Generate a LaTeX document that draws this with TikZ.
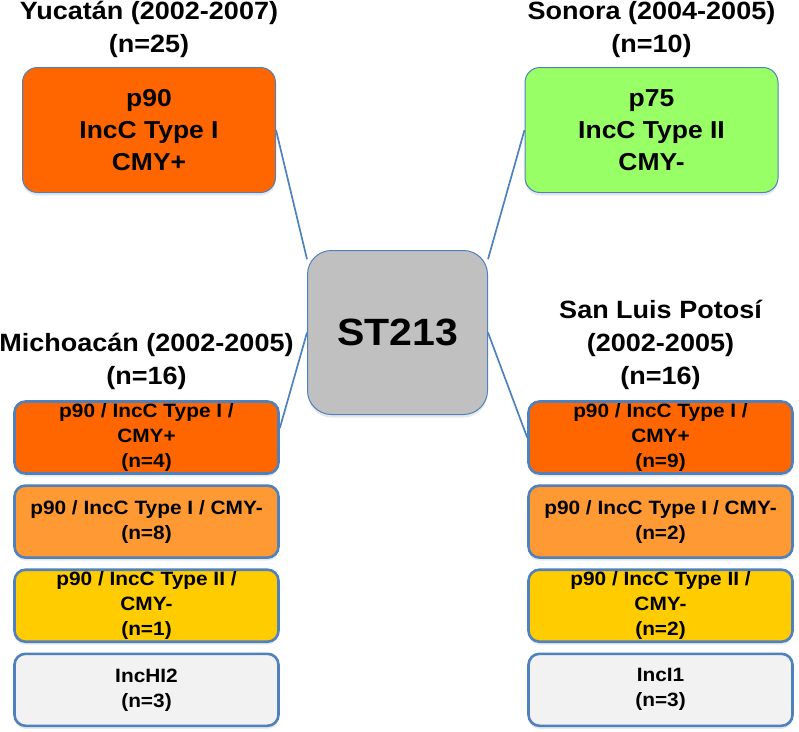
\documentclass[tikz,border=0pt]{standalone}
\usepackage{fontspec}
\setmainfont[FakeStretch=1.08]{Liberation Sans}
\usepackage{tikz}
\usetikzlibrary{positioning,backgrounds,shadows}
\definecolor{edgeblue}{RGB}{79,129,189}
\definecolor{darkorange}{RGB}{255,102,0}
\definecolor{lightorange}{RGB}{255,153,51}
\definecolor{goldyellow}{RGB}{255,204,0}
\definecolor{lightgreen}{RGB}{153,255,102}
\definecolor{centergray}{RGB}{192,192,192}
\definecolor{palegray}{RGB}{242,242,242}

\begin{document}
\begin{tikzpicture}[
        x=1pt, y=-1pt,
        node distance=9.5pt,
        soft/.style={drop shadow={opacity=0.18, shadow xshift=0pt, shadow yshift=-3pt}},
        bigbox/.style={rectangle, rounded corners=15pt, draw=edgeblue, line width=1pt, fill=#1, soft,
            minimum width=253pt, minimum height=125pt,
            align=center, font=\bfseries\fontsize{24.5}{32}\selectfont},
        stackbox/.style={rectangle, rounded corners=11pt, draw=edgeblue, line width=2.6pt, fill=#1, soft,
            minimum width=264pt, minimum height=72pt, inner sep=0pt,
            align=center, font=\bfseries\fontsize{19.3}{25}\selectfont},
        title/.style={align=center, inner sep=0pt, font=\bfseries\fontsize{25}{33}\selectfont},
        link/.style={draw=edgeblue, line width=1.7pt}
    ]
        \useasboundingbox (0,0) rectangle (799,731);

        % Central sequence type
        \node[rectangle, rounded corners=24pt, draw=edgeblue, line width=1pt, fill=centergray, soft,
            minimum width=180pt, minimum height=164pt,
            font=\bfseries\fontsize{38}{38}\selectfont] (st) at (397.5,332.5) {ST213};

        % Upper states
        \node[bigbox=darkorange] (yuc) at (149,130) {p90\\IncC Type I\\CMY+};
        \node[title, above=9pt of yuc] (yuctitle) {Yucat\'an (2002-2007)\\(n=25)};
        \node[bigbox=lightgreen] (son) at (651.5,130) {p75\\IncC Type II\\CMY-};
        \node[title, above=9pt of son] (sontitle) {Sonora (2004-2005)\\(n=10)};

        % Michoacan stack
        \node[stackbox=darkorange] (m1) at (146.5,437.5) {p90 / IncC Type I /\\CMY+\\(n=4)};
        \node[stackbox=lightorange, below=of m1] (m2) {p90 / IncC Type I / CMY-\\(n=8)};
        \node[stackbox=goldyellow, below=of m2] (m3) {p90 / IncC Type II /\\CMY-\\(n=1)};
        \node[stackbox=palegray, below=of m3] (m4) {IncHI2\\(n=3)};
        \node[title, above=10pt of m1] (mictitle) {Michoac\'an (2002-2005)\\(n=16)};

        % San Luis Potosi stack
        \node[stackbox=darkorange] (s1) at (660.5,437.5) {p90 / IncC Type I /\\CMY+\\(n=9)};
        \node[stackbox=lightorange, below=of s1] (s2) {p90 / IncC Type I / CMY-\\(n=2)};
        \node[stackbox=goldyellow, below=of s2] (s3) {p90 / IncC Type II /\\CMY-\\(n=2)};
        \node[stackbox=palegray, below=of s3] (s4) {IncI1\\(n=3)};
        \node[title, above=10pt of s1] (slptitle) {San Luis Potos\'i\\(2002-2005)\\(n=16)};

        % Connections
        \begin{scope}[on background layer]
        \draw[link] (yuc.east) -- (st.141);
        \draw[link] (son.west) -- (st.39);
        \draw[link] (m1.4) -- (st.west);
        \draw[link] (s1.west) -- (st.east);
        \end{scope}
    \end{tikzpicture}
\end{document}
